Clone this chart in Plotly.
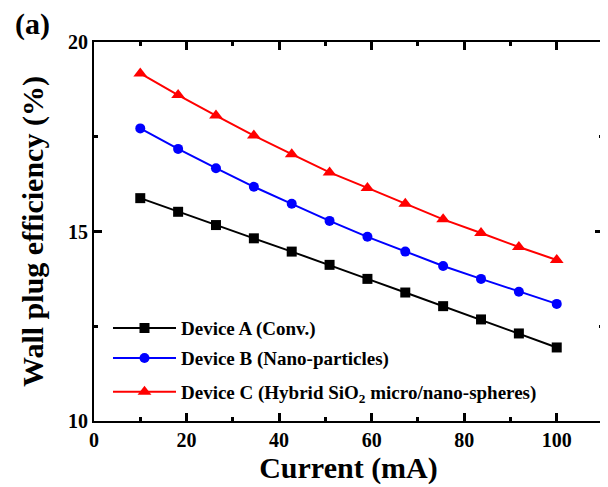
import plotly.graph_objects as go

current = [10, 18.18, 26.36, 34.55, 42.73, 50.91, 59.09, 67.27, 75.45, 83.64, 91.82, 100]
device_a = [15.88, 15.52, 15.17, 14.82, 14.47, 14.12, 13.75, 13.39, 13.03, 12.68, 12.31, 11.94]
device_b = [17.72, 17.18, 16.67, 16.18, 15.73, 15.28, 14.86, 14.47, 14.09, 13.75, 13.41, 13.09]
device_c = [19.17, 18.60, 18.06, 17.53, 17.04, 16.56, 16.15, 15.73, 15.32, 14.96, 14.59, 14.25]

names = ["<b>Device A (Conv.)</b>", "<b>Device B (Nano-particles)</b>",
         "<b>Device C (Hybrid SiO<sub>2</sub> micro/nano-spheres)</b>"]
colors = ["black", "blue", "red"]
symbols = ["square", "circle", "triangle-up"]
series = [device_a, device_b, device_c]
legends = ["legend", "legend2", "legend3"]
leg_y = [0.245, 0.166, 0.0765]

FONT = "Liberation Serif"

fig = go.Figure()
for name, ys, c, s, lg in zip(names, series, colors, symbols, legends):
    fig.add_trace(go.Scatter(
        x=current, y=ys, name=name, mode="lines+markers",
        line=dict(color=c, width=2),
        marker=dict(symbol=s, size=10 if s != "triangle-up" else 12, color=c),
        legend=lg, showlegend=True,
    ))

leg_common = dict(font=dict(family=FONT, size=19, color="black"),
                  bgcolor="rgba(0,0,0,0)", borderwidth=0,
                  xanchor="left", yanchor="middle", x=0.0275, itemwidth=63)
layout_legends = {}
for lg, yy in zip(legends, leg_y):
    d = dict(leg_common)
    d["y"] = yy
    layout_legends[lg] = d

fig.update_layout(
    width=608, height=487,
    margin=dict(l=86, r=13, t=34, b=74),
    plot_bgcolor="white",
    showlegend=True,
    xaxis=dict(range=[0, 110], showline=True, linecolor="black", linewidth=2, mirror="allticks",
               ticks="inside", ticklen=8, tickwidth=3, tickcolor="black", dtick=20,
               minor=dict(dtick=10, ticks="inside", ticklen=4, tickwidth=3, tickcolor="black"),
               automargin=False,
               tickfont=dict(family=FONT, size=20, color="black", weight="bold"),
               title=dict(text="<b>Current (mA)</b>",
                          font=dict(family=FONT, size=30, color="black"), standoff=7)),
    yaxis=dict(range=[10, 20], showline=True, linecolor="black", linewidth=2, mirror="allticks",
               ticks="inside", ticklen=8, tickwidth=3, tickcolor="black", dtick=5,
               minor=dict(dtick=2.5, ticks="inside", ticklen=4, tickwidth=3, tickcolor="black"),
               automargin=False,
               tickfont=dict(family=FONT, size=20, color="black", weight="bold"),
               title=dict(text="<b>Wall plug efficiency (%)</b>",
                          font=dict(family=FONT, size=30, color="black"), standoff=16)),
    annotations=[dict(text="<b>(a)</b>", x=-0.12, y=1.047, xref="paper", yref="paper",
                      xanchor="center", yanchor="middle", showarrow=False,
                      font=dict(family=FONT, size=30, color="black"))],
    **layout_legends,
)
fig.write_html("out.html")
